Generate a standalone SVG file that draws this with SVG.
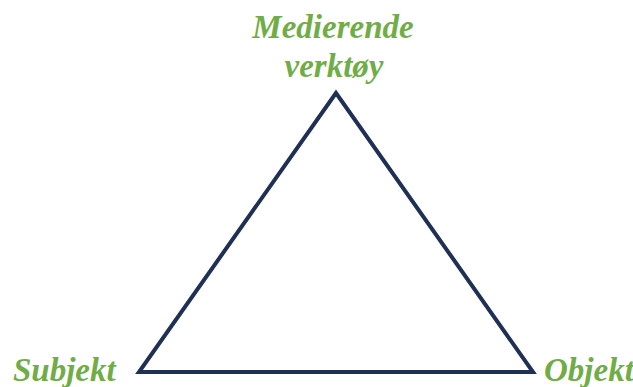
<svg xmlns="http://www.w3.org/2000/svg" width="633" height="387" viewBox="0 0 633 387">
<style>
.lbl{font-family:"Liberation Serif","Times New Roman",serif;font-weight:bold;font-style:italic;font-size:33px;fill:#70ad47}
.edge{fill:none;stroke:#1f3055;stroke-width:4;stroke-linejoin:miter}
</style>
<rect width="633" height="387" fill="#ffffff"/>
<g id="connectors">
<polygon class="edge" points="336,93 139,372 533,372"/>
</g>
<g id="node-mediating">
<text class="lbl" x="333" y="38" text-anchor="middle">Medierende</text>
<text class="lbl" x="334" y="77" text-anchor="middle">verktøy</text>
</g>
<g id="node-subject">
<text class="lbl" x="13" y="381">Subjekt</text>
</g>
<g id="node-object">
<text class="lbl" x="544" y="381">Objekt</text>
</g>
</svg>
